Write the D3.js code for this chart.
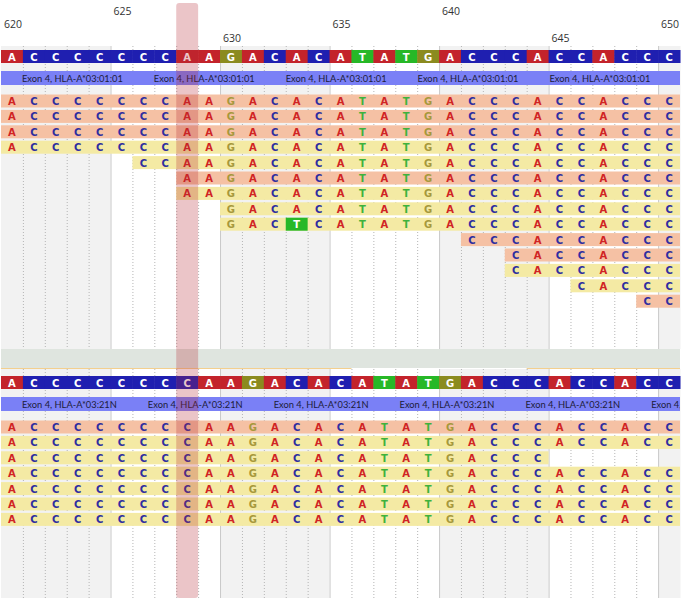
<!DOCTYPE html>
<html>
<head>
<meta charset="utf-8">
<script src="https://cdn.jsdelivr.net/npm/d3@7"></script>
<style>
body{margin:0;background:#fff;}
svg{display:block;}
</style>
</head>
<body>
<div id="chart"></div>
<script>
// alignment window
const firstPos = 620, lastPos = 650;
const tickLabels = [620, 625, 630, 635, 640, 645, 650];
const selectedPos = 628;

// top allele
const refTop = "ACCCCCCCAAGACACATATGACCCACCACCC";
const exonTop = "Exon 4, HLA-A*03:01:01";
const topReadStart = [620, 620, 620, 620, 626, 628, 628, 630, 630, 641, 643, 643, 646, 649];
const topReadEnd   = [650, 650, 650, 650, 650, 650, 650, 650, 650, 650, 650, 650, 650, 650];
const topReadKind  = ["r", "r", "r", "f", "f", "r", "f", "f", "f", "r", "r", "f", "f", "r"];
const topMismatch  = [{read: 8, pos: 633, base: "T"}];

// bottom allele
const refBottom = "ACCCCCCCCAAGACACATATGACCCACCACC";
const exonBottom = "Exon 4, HLA-A*03:21N";
const bottomReadStart = [620, 620, 620, 620, 620, 620, 620];
const bottomReadEnd   = [650, 650, 644, 650, 650, 650, 650];
const bottomReadKind  = ["r", "f", "f", "f", "f", "f", "f"];
const bottomMismatch  = [];

const W = 681, H = 602;
const refColor  = {A: "#c3232b", C: "#1f1fb0", G: "#8b8b1f", T: "#27b827"};
const readText  = {A: "#d02424", C: "#2e2ea0", G: "#a6983c", T: "#3db23d"};
const readFill  = {r: "#f5c1a4", f: "#f4eaa4"};
const baseFont = "'DejaVu Sans', sans-serif";

const svg = d3.select("#chart").append("svg").attr("width", W).attr("height", H);

const positions = d3.range(firstPos, lastPos + 1);
const x = d3.scaleBand().domain(positions).range([1, 680]);
const bw = x.bandwidth();

// stagger levels of the ruler numbers
const tickLevel = d3.scaleOrdinal().domain(tickLabels).range([1, 0, 2, 1, 0, 2, 1]);

svg.append("g").selectAll("text")
    .data(tickLabels)
    .enter().append("text")
    .attr("x", d => x(d) + 3)
    .attr("y", d => 15 + tickLevel(d) * 13.3)
    .attr("font-family", "'Open Sans', sans-serif")
    .attr("font-size", 10.5)
    .attr("fill", "#333")
    .text(d => d);

function drawPanel(top, bgTop, bgBottom, ref, exonLabel, starts, ends, kinds, mism, clipId){
    const g = svg.append("g");

    // column blocks
    g.append("g").selectAll("rect")
        .data(positions)
        .enter().append("rect")
        .attr("x", d => x(d))
        .attr("y", bgTop)
        .attr("width", bw + 0.5)
        .attr("height", bgBottom - bgTop)
        .attr("fill", d => Math.floor((d - firstPos) / 5) % 2 === 0 ? "#f2f2f2" : "#fff");

    g.append("g").selectAll("line")
        .data(positions.slice(1))
        .enter().append("line")
        .attr("x1", d => x(d) + 0.5).attr("x2", d => x(d) + 0.5)
        .attr("y1", bgTop).attr("y2", bgBottom)
        .attr("stroke", d => d % 5 === 0 ? "#c9c9c9" : "#b5b5b5")
        .attr("stroke-dasharray", d => d % 5 === 0 ? null : "1,2");

    // reference sequence
    const refData = positions.map((p, i) => ({pos: p, base: ref[i]}));
    const refG = g.append("g");
    refG.selectAll("rect")
        .data(refData)
        .enter().append("rect")
        .attr("x", d => x(d.pos))
        .attr("y", top + 2)
        .attr("width", bw + 0.5)
        .attr("height", 13)
        .attr("fill", d => refColor[d.base]);
    refG.selectAll("text")
        .data(refData)
        .enter().append("text")
        .attr("x", d => x(d.pos) + bw / 2)
        .attr("y", top + 12.5)
        .attr("text-anchor", "middle")
        .attr("font-family", baseFont)
        .attr("font-weight", "bold")
        .attr("font-size", 10)
        .attr("fill", "#fff")
        .text(d => d.base);

    // exon annotation bar
    g.append("clipPath").attr("id", clipId)
        .append("rect").attr("x", 1).attr("y", top + 23).attr("width", 679).attr("height", 14);
    g.append("rect")
        .attr("x", 1).attr("y", top + 23)
        .attr("width", 679).attr("height", 14)
        .attr("fill", "#7a80f6");
    const exG = g.append("g").attr("clip-path", `url(#${clipId})`);
    let lx = 22;
    while (lx < 680) {
        const t = exG.append("text")
            .attr("x", lx).attr("y", top + 33.5)
            .attr("font-family", "Lato, 'Open Sans', sans-serif")
            .attr("font-size", 9.3)
            .attr("fill", "#1c1c3a")
            .text(exonLabel);
        lx += t.node().getComputedTextLength() + 31;
    }

    // reads
    const rowY = d3.scaleLinear().domain([0, 1]).range([top + 46.5, top + 61.9]);
    const reads = starts.map((s, i) => ({row: i, start: s, end: ends[i], kind: kinds[i]}));
    const readG = g.append("g");
    readG.selectAll("rect")
        .data(reads)
        .enter().append("rect")
        .attr("x", d => x(d.start))
        .attr("y", d => rowY(d.row))
        .attr("width", d => x(d.end) + bw - x(d.start))
        .attr("height", 13)
        .attr("fill", d => readFill[d.kind]);

    const cells = [];
    reads.forEach(r => {
        positions.forEach((p, i) => {
            if (p < r.start || p > r.end) return;
            const m = mism.find(mm => mm.read === r.row && mm.pos === p);
            cells.push({row: r.row, pos: p, base: m ? m.base : ref[i], mismatch: !!m});
        });
    });
    readG.selectAll("rect.mm")
        .data(cells.filter(c => c.mismatch))
        .enter().append("rect")
        .attr("class", "mm")
        .attr("x", d => x(d.pos))
        .attr("y", d => rowY(d.row))
        .attr("width", bw)
        .attr("height", 13)
        .attr("fill", d => refColor[d.base]);
    readG.selectAll("text")
        .data(cells)
        .enter().append("text")
        .attr("x", d => x(d.pos) + bw / 2)
        .attr("y", d => rowY(d.row) + 10.5)
        .attr("text-anchor", "middle")
        .attr("font-family", baseFont)
        .attr("font-weight", "bold")
        .attr("font-size", 10)
        .attr("fill", d => d.mismatch ? "#fff" : readText[d.base])
        .text(d => d.base);
}

drawPanel(48, 46, 349, refTop, exonTop, topReadStart, topReadEnd, topReadKind, topMismatch, "clipTop");

// separator band between alleles
svg.append("rect").attr("x", 1).attr("y", 349).attr("width", 679).attr("height", 19).attr("fill", "#dfe5df");
svg.append("g").selectAll("line")
    .data([[firstPos, 636], [644, lastPos + 1]])
    .enter().append("line")
    .attr("x1", d => x(d[0]))
    .attr("x2", d => d[1] > lastPos ? 680 : x(d[1]))
    .attr("y1", 368.5).attr("y2", 368.5)
    .attr("stroke", "#f3cf8e");

drawPanel(374, 369, 598, refBottom, exonBottom, bottomReadStart, bottomReadEnd, bottomReadKind, bottomMismatch, "clipBottom");

// selected column highlight
svg.append("rect")
    .attr("x", x(selectedPos))
    .attr("y", 3)
    .attr("width", bw)
    .attr("height", 595)
    .attr("rx", 3)
    .attr("fill", "rgba(180,40,50,0.27)");
</script>
</body>
</html>
